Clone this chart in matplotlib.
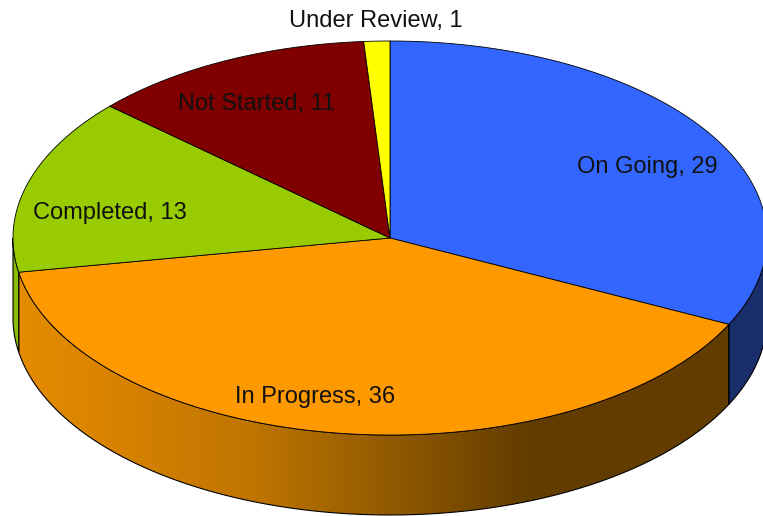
import numpy as np
import matplotlib
matplotlib.use("Agg")
import matplotlib.pyplot as plt
from matplotlib.patches import Polygon

labels = ["On Going", "In Progress", "Completed", "Not Started", "Under Review"]
values = [29, 36, 13, 11, 1]
top_colors = ["#3366ff", "#ff9900", "#99cc00", "#800000", "#ffff00"]
side_colors = ["#1a2e6c", None, "#8cbc00", "#600000", "#d0d000"]

# orange side gets a left-to-right shade
grad_x = [15, 100, 250, 400, 530, 763]
grad_rgb = [(228, 140, 0), (218, 132, 0), (192, 117, 0), (142, 88, 0), (98, 60, 0), (98, 60, 0)]

W, H = 763, 516
cx, cy = 390, 238
rx, ry = 377, 197
depth = 80
# small pixel nudges for the labels
nudge = [(8, 10), (-34, 7), (3, 17), (-4, 4), (0, 2)]

plt.rcParams['font.family'] = ['Liberation Sans', 'DejaVu Sans']
fig = plt.figure(figsize=(W / 100, H / 100), dpi=100)
ax = fig.add_axes([0, 0, 1, 1])
ax.set_xlim(0, W)
ax.set_ylim(H, 0)
ax.axis("off")


def pt(th, dy=0):
    return cx + rx * np.cos(th), cy - ry * np.sin(th) + dy


total = sum(values)
angles = [90.0]
for v in values:
    angles.append(angles[-1] - v / total * 360)

# sides (only front half, angles between -180 and 0)
for i in range(len(values)):
    a0, a1 = angles[i + 1], angles[i]
    lo, hi = max(a0, -180), min(a1, 0)
    if lo >= hi:
        continue
    th = np.radians(np.linspace(lo, hi, 100))
    x, y = pt(th)
    xb, yb = pt(th[::-1], depth)
    poly = np.column_stack([np.concatenate([x, xb]), np.concatenate([y, yb])])
    if side_colors[i] is None:
        p = Polygon(poly, closed=True, facecolor="none", edgecolor="black", lw=0.8, zorder=2)
        ax.add_patch(p)
        cols = np.arange(W)
        img = np.zeros((1, W, 3))
        for c in range(3):
            img[0, :, c] = np.interp(cols, grad_x, [g[c] for g in grad_rgb]) / 255
        im = ax.imshow(img, extent=[0, W, H, 0], aspect="auto", zorder=1, interpolation="bilinear")
        clip = Polygon(poly, closed=True, transform=ax.transData)
        im.set_clip_path(clip)
    else:
        ax.add_patch(Polygon(poly, closed=True, facecolor=side_colors[i],
                             edgecolor="black", lw=0.8, zorder=2))

# top wedges
for i in range(len(values)):
    th = np.radians(np.linspace(angles[i], angles[i + 1], 200))
    x, y = pt(th)
    poly = np.column_stack([np.concatenate([[cx], x]), np.concatenate([[cy], y])])
    ax.add_patch(Polygon(poly, closed=True, facecolor=top_colors[i],
                         edgecolor="black", lw=0.6, zorder=3))

# labels
for i in range(len(values)):
    mid = np.radians((angles[i] + angles[i + 1]) / 2)
    r = 0.78 if values[i] / total > 0.05 else 1.11
    lx = cx + r * rx * np.cos(mid) + nudge[i][0]
    ly = cy - r * ry * np.sin(mid) + nudge[i][1]
    ax.text(lx, ly, f"{labels[i]}, {values[i]}", ha="center", va="center",
            fontsize=17, color="#111111", zorder=5)

fig.savefig("out.png", dpi=100)
